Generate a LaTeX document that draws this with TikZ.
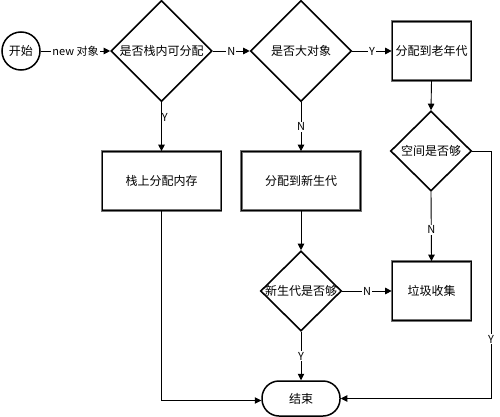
\documentclass[tikz,border=0pt]{standalone}
\usepackage{fontspec}
\setmainfont{Noto Sans CJK SC}
\usetikzlibrary{shapes.geometric,arrows.meta,calc}
\begin{document}
\begin{tikzpicture}[x=1pt,y=1pt,
  every node/.style={font=\fontsize{12}{14}\selectfont},
  dia/.style={shape=diamond,draw=black,line width=1.6pt,inner sep=0pt,fill=white},
  procbox/.style={draw=black!55,double=black,double distance=0.9pt,line width=0.7pt,minimum width=79pt,minimum height=59pt,inner sep=0pt,fill=white},
  arr/.style={draw=black,line width=0.9pt,-{Triangle[length=6.5pt,width=6.5pt]}},
  lbl/.style={fill=white,inner sep=1pt,font=\fontsize{11}{12}\selectfont}]
\useasboundingbox (0,0) rectangle (500,-417);
\node[circle,draw=black,line width=1.5pt,minimum size=38pt,inner sep=0pt] (start) at (21,-51) {开始};
\node[dia,minimum width=101pt,minimum height=101pt] (d1) at (161.5,-51) {\makebox[0pt]{是否栈内可分配}};
\node[dia,minimum width=101pt,minimum height=101pt] (d2) at (301,-51) {\makebox[0pt]{是否大对象}};
\node[procbox] (old) at (431.5,-51) {分配到老年代};
\node[dia,minimum width=81pt,minimum height=80pt] (d3) at (431,-151) {\makebox[0pt]{空间是否够}};
\node[procbox,minimum width=119pt] (stack) at (161.5,-181) {栈上分配内存};
\node[procbox,minimum width=119pt] (newg) at (301,-181) {分配到新生代};
\node[dia,minimum width=81pt,minimum height=80pt] (d4) at (301,-291) {\makebox[0pt]{新生代是否够}};
\node[procbox] (gc) at (431.5,-291) {垃圾收集};
\node[draw=black,line width=1.5pt,rounded corners=17pt,minimum width=78pt,minimum height=35pt,inner sep=0pt] (end) at (301,-398.5) {结束};
\coordinate (rc) at (491,-151);

\draw[arr] (start) -- node[lbl] {new 对象} (d1.west);
\draw[arr] (d1.east) -- node[lbl] {N} (d2.west);
\draw[arr] (d2.east) -- node[lbl] {Y} (old.west);
\draw[arr] (old.south) -- (d3.north);
\draw[arr] (d1.south) -- node[lbl,pos=0.32,anchor=west,fill=none,xshift=-1pt] {Y} (stack.north);
\draw[arr] (d2.south) -- node[lbl,pos=0.5] {N} (newg.north);
\draw[arr] (newg.south) -- (d4.north);
\draw[arr] (d4.east) -- node[lbl] {N} (gc.west);
\draw[arr] (d3.south) -- node[lbl,pos=0.55] {N} (gc.north);
\draw[arr] (d4.south) -- node[lbl,pos=0.5] {Y} (end.north);
\draw[arr] (stack.south) |- ($(end.west)+(0,-2)$);
\draw[arr] (d3.east) -- (rc) |- node[lbl,pos=0.38] {Y} (end.east);
\end{tikzpicture}
\end{document}
